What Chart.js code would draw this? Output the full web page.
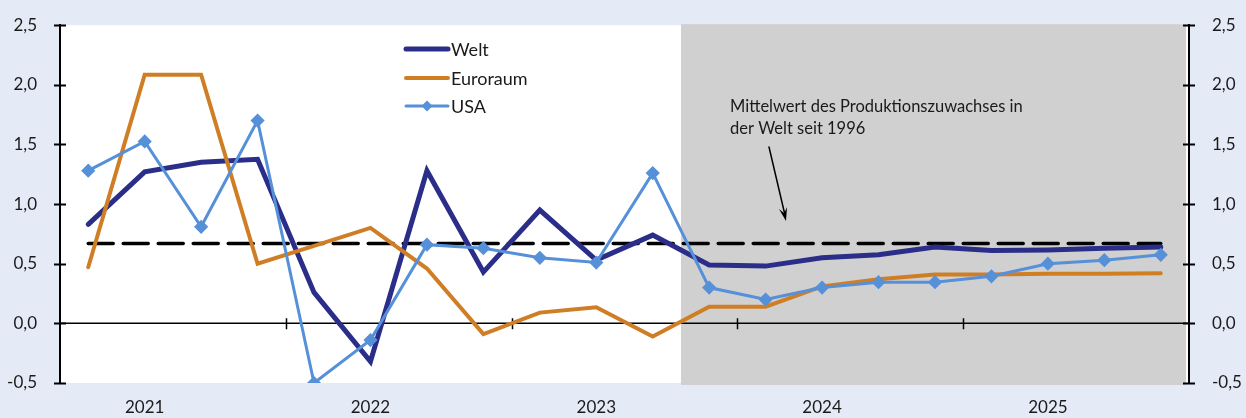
<!DOCTYPE html>
<html><head><meta charset="utf-8">
<script src="https://cdn.jsdelivr.net/npm/chart.js@4"></script>
<style>html,body{margin:0;padding:0;background:#E4EBF7;}#wrap{width:1246px;height:418px;position:relative;}</style>
</head><body><div id="wrap"><canvas id="c"></canvas></div>
<script>
const quarters = ['2021Q1','2021Q2','2021Q3','2021Q4','2022Q1','2022Q2','2022Q3','2022Q4','2023Q1','2023Q2','2023Q3','2023Q4','2024Q1','2024Q2','2024Q3','2024Q4','2025Q1','2025Q2','2025Q3','2025Q4'];
const welt = [0.83,1.27,1.35,1.375,0.26,-0.32,1.28,0.43,0.95,0.53,0.74,0.49,0.48,0.55,0.575,0.64,0.61,0.615,0.63,0.64];
const euroraum = [0.47,2.085,2.085,0.50,0.65,0.80,0.46,-0.09,0.09,0.135,-0.11,0.14,0.14,0.31,0.37,0.41,0.41,0.415,0.415,0.42];
const usa = [1.28,1.525,0.81,1.70,-0.50,-0.14,0.66,0.63,0.55,0.51,1.26,0.30,0.20,0.30,0.345,0.345,0.395,0.50,0.53,0.575];
const mittelwert = 0.67;
const mittelwertLine = quarters.map(() => mittelwert);
const forecastStart = '2023Q4';
const seriesNames = ['Welt','Euroraum','USA'];
const annotationLines = ['Mittelwert des Produktionszuwachses in','der Welt seit 1996'];

const FONT = 'Lato, "Open Sans", sans-serif';
const C_WELT = '#2B2E88', C_EURO = '#D07E26', C_USA = '#5590D8';

const fmt = v => v.toFixed(1).replace('.', ',');

const deco = {
  id: 'deco',
  beforeDraw(chart) {
    const {ctx, chartArea: a, scales: {x}} = chart;
    ctx.save();
    ctx.fillStyle = '#E4EBF7';
    ctx.fillRect(0, 0, chart.width, chart.height);
    ctx.fillStyle = '#FFFFFF';
    ctx.fillRect(a.left, a.top, a.right - a.left, a.bottom - a.top);
    const i = quarters.indexOf(forecastStart);
    const sx = (x.getPixelForValue(i - 1) + x.getPixelForValue(i)) / 2;
    ctx.fillStyle = '#D0D0D0';
    ctx.fillRect(sx, a.top - 1, a.right - 3 - sx, a.bottom - a.top + 3);
    ctx.restore();
  },
  beforeDatasetsDraw(chart) {
    const {ctx, chartArea: a, scales: {x, y}} = chart;
    ctx.save();
    const y0 = y.getPixelForValue(0);
    ctx.strokeStyle = '#000';
    ctx.lineWidth = 1.5;
    ctx.beginPath();
    ctx.moveTo(a.left, y0); ctx.lineTo(a.right, y0);
    for (let i = 4; i < quarters.length; i += 4) {
      const px = Math.round((x.getPixelForValue(i - 1) + x.getPixelForValue(i)) / 2) + 0.5;
      ctx.moveTo(px, y0 - 5); ctx.lineTo(px, y0 + 6);
    }
    ctx.stroke();
    ctx.lineWidth = 2;
    ctx.beginPath();
    y.ticks.forEach(t => {
      const py = Math.round(y.getPixelForValue(t.value)) + 0.5;
      ctx.moveTo(a.left - 6, py); ctx.lineTo(a.left + 6, py);
      ctx.moveTo(a.right - 6, py); ctx.lineTo(a.right + 6, py);
    });
    ctx.stroke();
    ctx.restore();
  },
  afterDraw(chart) {
    const {ctx} = chart;
    ctx.save();
    const lx0 = 406, lx1 = 448, tx = 451;
    const rows = [[C_WELT, 5, 49, false], [C_EURO, 4, 78, false], [C_USA, 3, 106, true]];
    ctx.font = '18px ' + FONT;
    ctx.textBaseline = 'middle';
    rows.forEach((r, k) => {
      ctx.strokeStyle = r[0]; ctx.lineWidth = r[1]; ctx.lineCap = 'round';
      ctx.beginPath(); ctx.moveTo(lx0, r[2]); ctx.lineTo(lx1, r[2]); ctx.stroke();
      if (r[3]) {
        const cx = (lx0 + lx1) / 2, cy = r[2], s = 5.5;
        ctx.fillStyle = r[0];
        ctx.beginPath(); ctx.moveTo(cx, cy - s); ctx.lineTo(cx + s, cy); ctx.lineTo(cx, cy + s); ctx.lineTo(cx - s, cy); ctx.closePath(); ctx.fill();
      }
      ctx.fillStyle = '#1a1a1a';
      ctx.fillText(seriesNames[k], tx, r[2] + 1);
    });
    ctx.font = '16.5px ' + FONT;
    ctx.textBaseline = 'alphabetic';
    ctx.fillStyle = '#1a1a1a';
    ctx.fillText(annotationLines[0], 730, 112);
    ctx.fillText(annotationLines[1], 730, 134);
    const ax0 = 769, ay0 = 147, ax1 = 786, ay1 = 221;
    ctx.strokeStyle = '#000'; ctx.lineWidth = 1.5;
    ctx.beginPath(); ctx.moveTo(ax0, ay0); ctx.lineTo(ax1 - 1.5, ay1 - 8); ctx.stroke();
    const ang = Math.atan2(ay1 - ay0, ax1 - ax0);
    ctx.fillStyle = '#000';
    ctx.beginPath();
    ctx.moveTo(ax1, ay1);
    ctx.lineTo(ax1 - 14 * Math.cos(ang - 0.3), ay1 - 14 * Math.sin(ang - 0.3));
    ctx.lineTo(ax1 - 8 * Math.cos(ang), ay1 - 8 * Math.sin(ang));
    ctx.lineTo(ax1 - 14 * Math.cos(ang + 0.3), ay1 - 14 * Math.sin(ang + 0.3));
    ctx.closePath(); ctx.fill();
    ctx.restore();
  }
};

new Chart(document.getElementById('c'), {
  type: 'line',
  data: {
    labels: quarters,
    datasets: [
      {label: seriesNames[0], data: welt, borderColor: C_WELT, backgroundColor: C_WELT, borderWidth: 5, pointRadius: 0, order: 3},
      {label: seriesNames[1], data: euroraum, borderColor: C_EURO, backgroundColor: C_EURO, borderWidth: 4, pointRadius: 0, order: 2},
      {label: seriesNames[2], data: usa, borderColor: C_USA, backgroundColor: C_USA, borderWidth: 3, pointStyle: 'rectRot', pointRadius: 5, pointHoverRadius: 5, order: 1},
      {label: 'Mittelwert', data: mittelwertLine, borderColor: '#000', borderWidth: 3.5, borderDash: [25, 10], pointRadius: 0, order: 4}
    ]
  },
  options: {
    responsive: true, maintainAspectRatio: false, animation: false,
    layout: {padding: {top: 23, left: 0, right: 0, bottom: 0}},
    elements: {line: {tension: 0, borderCapStyle: 'round', borderJoinStyle: 'miter'}},
    plugins: {legend: {display: false}, tooltip: {enabled: false}},
    scales: {
      x: {
        offset: true,
        grid: {display: false}, border: {display: false},
        afterFit: s => { s.height = 35; },
        ticks: {autoSkip: false, maxRotation: 0, padding: 6, color: '#1a1a1a', font: {family: FONT, size: 17},
          callback: (v, i) => i % 4 === 1 ? quarters[i].slice(0, 4) : ''}
      },
      y: {
        position: 'left', min: -0.5, max: 2.5,
        grid: {display: false}, border: {display: true, color: '#000', width: 2},
        afterFit: s => { s.width = 60; },
        ticks: {stepSize: 0.5, padding: 15, color: '#1a1a1a', font: {family: FONT, size: 17}, callback: v => fmt(v)}
      },
      y2: {
        position: 'right', min: -0.5, max: 2.5,
        grid: {display: false}, border: {display: true, color: '#000', width: 2},
        afterFit: s => { s.width = 57; },
        ticks: {stepSize: 0.5, padding: 15, color: '#1a1a1a', font: {family: FONT, size: 17}, callback: v => fmt(v)}
      }
    }
  },
  plugins: [deco]
});
</script></body></html>
